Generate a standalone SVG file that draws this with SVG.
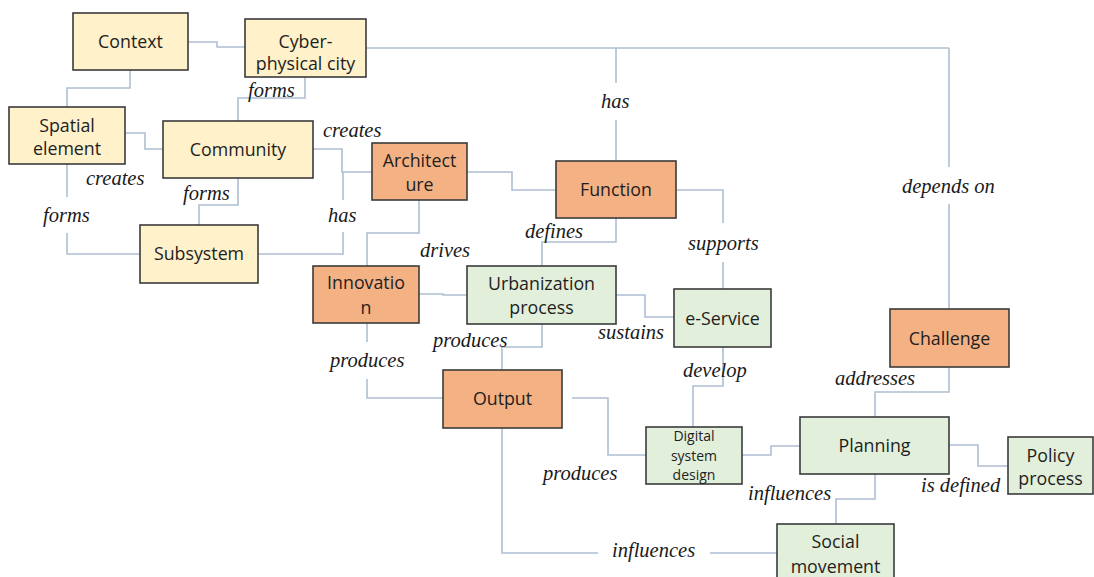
<svg xmlns="http://www.w3.org/2000/svg" width="1094" height="577" viewBox="0 0 1094 577">
<style>
.n rect{stroke:#3b3b3b;stroke-width:1.6}
.y rect{fill:#FFF1CA}
.o rect{fill:#F4B183}
.g rect{fill:#E2EFDA}
.n text{font-family:"Open Sans","Noto Sans",sans-serif;font-size:17.8px;fill:#1e1e1e;text-anchor:middle}
.n text.s{font-size:14px}
#connectors path{fill:none;stroke:#AEBFD2;stroke-width:1.6}
.l{font-family:"Liberation Serif","Times New Roman",serif;font-style:italic;font-size:20.5px;fill:#1a1a1a}
</style>
<rect width="1094" height="577" fill="#ffffff"/>
<g id="connectors">
<path d="M188,42H217V47H245"/>
<path d="M130,70V88H67V107"/>
<path d="M305,77V98H238V121"/>
<path d="M366,48H949"/>
<path d="M616,48V83M616,120V161"/>
<path d="M949,48V167M949,204V309"/>
<path d="M125,133H145V149H163"/>
<path d="M67,164V197M67,233V254H140"/>
<path d="M238,178V205H199V225"/>
<path d="M313,149H342V172H372"/>
<path d="M343,172V200M343,232V254H258"/>
<path d="M467,172H512V190H556"/>
<path d="M419,200V233H367V266"/>
<path d="M616,218V242H542V266"/>
<path d="M676,190H723V223M723,262V289"/>
<path d="M419,294H443V295H467"/>
<path d="M616,295H645V317H674"/>
<path d="M367,323V342M367,379V398H443"/>
<path d="M542,324V347H502V370"/>
<path d="M723,347V386H693V427"/>
<path d="M572,398H608V455H646"/>
<path d="M502,428V553H598M710,553H777"/>
<path d="M742,455H771V446H800"/>
<path d="M949,367V392H875V417"/>
<path d="M949,445H978V466H1008"/>
<path d="M875,474V499H836V524"/>
</g>
<g id="context" class="n y"><rect x="73" y="13" width="115" height="57"/><text x="130.5" y="48">Context</text></g>
<g id="cyber-physical-city" class="n y"><rect x="245" y="19" width="121" height="58"/><text x="305.5" y="48">Cyber-</text><text x="305.5" y="70">physical city</text></g>
<g id="spatial-element" class="n y"><rect x="9" y="107" width="116" height="57"/><text x="67" y="132">Spatial</text><text x="67" y="155">element</text></g>
<g id="community" class="n y"><rect x="163" y="121" width="150" height="57"/><text x="238" y="156">Community</text></g>
<g id="subsystem" class="n y"><rect x="140" y="225" width="118" height="58"/><text x="199" y="260">Subsystem</text></g>
<g id="architecture" class="n o"><rect x="372" y="143" width="95" height="57"/><text x="419.5" y="167">Architect</text><text x="419.5" y="191">ure</text></g>
<g id="function" class="n o"><rect x="556" y="161" width="120" height="57"/><text x="616" y="196">Function</text></g>
<g id="innovation" class="n o"><rect x="313" y="266" width="106" height="57"/><text x="366" y="289">Innovatio</text><text x="366" y="314">n</text></g>
<g id="urbanization-process" class="n g"><rect x="467" y="266" width="149" height="58"/><text x="541.5" y="290">Urbanization</text><text x="541.5" y="314">process</text></g>
<g id="e-service" class="n g"><rect x="674" y="289" width="97" height="58"/><text x="722.5" y="325">e-Service</text></g>
<g id="output" class="n o"><rect x="443" y="370" width="119" height="58"/><text x="502.5" y="405">Output</text></g>
<g id="challenge" class="n o"><rect x="890" y="309" width="119" height="58"/><text x="949.5" y="345">Challenge</text></g>
<g id="digital-system-design" class="n g"><rect x="646" y="427" width="96" height="57"/><text class="s" x="694" y="441">Digital</text><text class="s" x="694" y="461">system</text><text class="s" x="694" y="480">design</text></g>
<g id="planning" class="n g"><rect x="800" y="417" width="149" height="57"/><text x="874.5" y="452">Planning</text></g>
<g id="policy-process" class="n g"><rect x="1008" y="437" width="85" height="57"/><text x="1050.5" y="462">Policy</text><text x="1050.5" y="485">process</text></g>
<g id="social-movement" class="n g"><rect x="777" y="524" width="117" height="62"/><text x="835.5" y="548">Social</text><text x="835.5" y="573">movement</text></g>
<g id="labels">
<text class="l" x="248" y="97">forms</text>
<text class="l" x="323" y="137">creates</text>
<text class="l" x="86" y="185">creates</text>
<text class="l" x="43" y="222">forms</text>
<text class="l" x="183" y="200">forms</text>
<text class="l" x="328" y="222">has</text>
<text class="l" x="601" y="108">has</text>
<text class="l" x="420" y="257">drives</text>
<text class="l" x="525" y="238">defines</text>
<text class="l" x="688" y="250">supports</text>
<text class="l" x="902" y="193">depends on</text>
<text class="l" x="598" y="339">sustains</text>
<text class="l" x="433" y="347">produces</text>
<text class="l" x="330" y="367">produces</text>
<text class="l" x="683" y="377">develop</text>
<text class="l" x="835" y="385">addresses</text>
<text class="l" x="543" y="480">produces</text>
<text class="l" x="748" y="500">influences</text>
<text class="l" x="921" y="492">is defined</text>
<text class="l" x="612" y="557">influences</text>
</g>
</svg>
